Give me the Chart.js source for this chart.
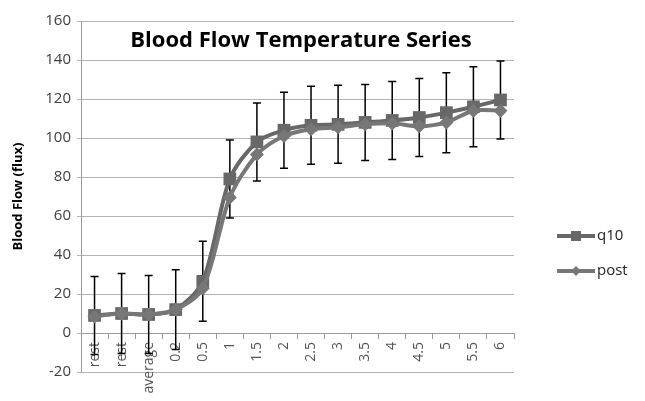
<!DOCTYPE html>
<html>
<head>
<meta charset="utf-8">
<script src="https://cdn.jsdelivr.net/npm/chart.js@4"></script>
<style>
  html, body { margin: 0; padding: 0; background: #fff; }
  #wrap { width: 645px; height: 401px; }
</style>
</head>
<body>
<div id="wrap"><canvas id="bloodChart"></canvas></div>
<script>
const labels = ['rest', 'rest', 'average', '0.2', '0.5', '1', '1.5', '2', '2.5', '3', '3.5', '4', '4.5', '5', '5.5', '6']
const q10 = [9, 10, 9.5, 12, 26.5, 79, 98, 104, 106.5, 107, 108, 109, 110.5, 113, 116, 119.5]
const post = [8.5, 10, 9.5, 12, 23, 69.5, 91.5, 101, 104.5, 105.5, 107, 107.5, 106, 108, 114, 114]
const q10Error = [20, 20.5, 20, 20.5, 20.5, 20, 20, 19.5, 20, 20, 19.5, 20, 20, 20.5, 20.5, 20]
const yTicks = [-20, 0, 20, 40, 60, 80, 100, 120, 140, 160]

const q10Color = '#686868'
const postColor = '#777777'
const font = '"Open Sans", "Noto Sans", sans-serif'

const ctx = document.getElementById('bloodChart')

// error bars for q10, drawn under the lines
const errorBars = {
    id: 'errorBars',
    beforeDatasetsDraw(chart) {
        const x = chart.scales.x, y = chart.scales.y, c = chart.ctx
        c.save()
        c.strokeStyle = '#000'
        c.lineWidth = 1.5
        q10.forEach((v, i) => {
            const px = x.getPixelForValue(i)
            const top = y.getPixelForValue(v + q10Error[i])
            const bot = y.getPixelForValue(v - q10Error[i])
            c.beginPath()
            c.moveTo(px, top); c.lineTo(px, bot)
            c.moveTo(px - 4, top); c.lineTo(px + 4, top)
            c.moveTo(px - 4, bot); c.lineTo(px + 4, bot)
            c.stroke()
        })
        c.restore()
    }
}

// title inside the plot and an Excel style legend on the right
const extras = {
    id: 'extras',
    afterDraw(chart) {
        const c = chart.ctx, area = chart.chartArea
        c.save()
        c.fillStyle = '#000'
        c.font = 'bold 22px ' + font
        c.textAlign = 'center'
        c.textBaseline = 'alphabetic'
        c.fillText('Blood Flow Temperature Series', 301, 47)

        const items = [
            { text: 'q10', color: q10Color, style: 'rect', y: 236 },
            { text: 'post', color: postColor, style: 'rectRot', y: 271 }
        ]
        items.forEach(it => {
            c.strokeStyle = it.color
            c.lineWidth = 4
            c.beginPath(); c.moveTo(557, it.y); c.lineTo(595, it.y); c.stroke()
            c.fillStyle = it.color
            if (it.style === 'rect') {
                c.fillRect(571, it.y - 5, 10, 10)
            } else {
                c.beginPath()
                c.moveTo(576, it.y - 5); c.lineTo(581, it.y); c.lineTo(576, it.y + 5); c.lineTo(571, it.y)
                c.closePath(); c.fill()
            }
            c.fillStyle = '#222'
            c.font = '15px ' + font
            c.textAlign = 'left'
            c.textBaseline = 'middle'
            c.fillText(it.text, 597, it.y)
        })
        c.restore()
    }
}

new Chart(ctx, {
    type: 'line',
    data: {
        labels: labels,
        datasets: [
            {
                label: 'post',
                data: post,
                borderColor: postColor,
                backgroundColor: postColor,
                borderWidth: 4,
                pointStyle: 'rectRot',
                pointRadius: 7,
                pointBorderWidth: 0,
                tension: 0.3
            },
            {
                label: 'q10',
                data: q10,
                borderColor: q10Color,
                backgroundColor: q10Color,
                borderWidth: 4,
                pointStyle: 'rect',
                pointRadius: 9,
                pointBorderWidth: 0,
                tension: 0.3
            }
        ]
    },
    options: {
        responsive: true,
        maintainAspectRatio: false,
        animation: false,
        layout: { padding: { left: 0, top: 21, right: 131, bottom: 29 } },
        plugins: {
            legend: { display: false },
            title: { display: false },
            tooltip: { enabled: false }
        },
        scales: {
            x: {
                position: { y: 0 },
                offset: true,
                grid: { offset: true, drawOnChartArea: false, color: '#9a9a9a', tickLength: 5 },
                border: { color: '#9a9a9a' },
                ticks: {
                    minRotation: 90,
                    maxRotation: 90,
                    autoSkip: false,
                    padding: 4,
                    color: '#555',
                    font: { family: font, size: 14 }
                }
            },
            y: {
                min: -20,
                max: 160,
                afterBuildTicks(scale) { scale.ticks = yTicks.map(v => ({ value: v })) },
                afterFit(scale) { scale.width = 81 },
                grid: { color: '#b4b4b4', tickLength: 4 },
                border: { color: '#9a9a9a' },
                ticks: {
                    color: '#404040',
                    padding: 6,
                    font: { family: font, size: 15 }
                },
                title: {
                    display: true,
                    text: 'Blood Flow (flux)',
                    color: '#000',
                    padding: { top: 10, bottom: 0 },
                    font: { family: font, size: 13, weight: 'bold' }
                }
            }
        }
    },
    plugins: [errorBars, extras]
})
</script>
</body>
</html>
